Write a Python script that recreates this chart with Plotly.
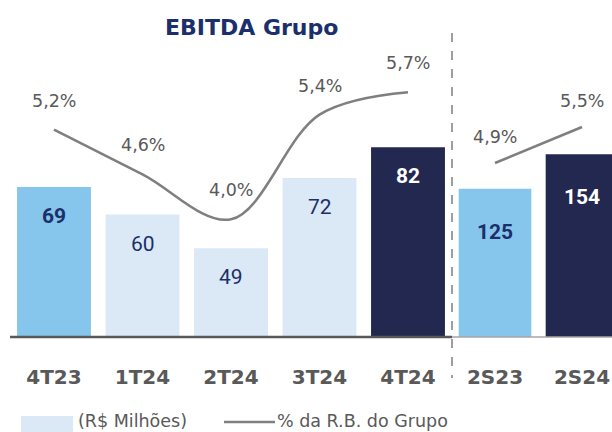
import plotly.graph_objects as go

# ---- data ----
quarters = ["4T23", "1T24", "2T24", "3T24", "4T24"]
quarter_ebitda = [69, 60, 49, 72, 82]
quarter_pct = [5.2, 4.6, 4.0, 5.4, 5.7]

semesters = ["2S23", "2S24"]
semester_ebitda = [125, 154]
semester_pct = [4.9, 5.5]

title_text = "EBITDA Grupo"
legend_bar = "(R$ Milhões)"
legend_line = "% da R.B. do Grupo"

# ---- styles ----
LIGHT = "#87C6EC"
PALE = "#DBE8F5"
DARK = "#22284F"
NAVY = "#1B2F6B"
GRAY = "#595959"
LINE = "#7F7F7F"
FONT = "DejaVu Sans"
NUMFONT = "Roboto"

q_colors = [LIGHT, PALE, PALE, PALE, DARK]
q_text_colors = [NAVY, NAVY, NAVY, NAVY, "white"]
q_bold = [True, False, False, False, True]
s_colors = [LIGHT, DARK]
s_text_colors = [NAVY, "white"]
s_bold = [True, True]

W, H = 612, 432
PLOT_TOP, PLOT_BOTTOM = 30, 337
ML, MR = 0, 0
MT = PLOT_TOP
MB = H - PLOT_BOTTOM
PH = H - MT - MB


def px_x(p):
    return p / W


def px_y(p):
    return (H - MB - p) / PH


fig = go.Figure()

fig.add_trace(go.Bar(x=quarters, y=quarter_ebitda, marker_color=q_colors,
                     marker_line_width=0, xaxis="x", yaxis="y",
                     hoverinfo="skip", showlegend=False))
fig.add_trace(go.Scatter(x=quarters, y=quarter_pct, mode="lines",
                         line=dict(color=LINE, width=2.5, shape="spline", smoothing=1.0),
                         xaxis="x", yaxis="y2", hoverinfo="skip", showlegend=False))
fig.add_trace(go.Bar(x=semesters, y=semester_ebitda, marker_color=s_colors,
                     marker_line_width=0, xaxis="x2", yaxis="y3",
                     hoverinfo="skip", showlegend=False))
fig.add_trace(go.Scatter(x=semesters, y=semester_pct, mode="lines",
                         line=dict(color=LINE, width=2.5),
                         xaxis="x2", yaxis="y4", hoverinfo="skip", showlegend=False))

annotations = []


def fmt_pct(v):
    return f"{v:.1f}".replace(".", ",") + "%"


for cat, v, c, b in zip(quarters, quarter_ebitda, q_text_colors, q_bold):
    annotations.append(dict(x=cat, y=v, xref="x", yref="y", text=f"<b>{v}</b>" if b else str(v),
                            showarrow=False, yshift=-29, yanchor="middle",
                            font=dict(family=NUMFONT, size=21, color=c)))
for cat, v in zip(quarters, quarter_pct):
    annotations.append(dict(x=cat, y=v, xref="x", yref="y2", text=fmt_pct(v),
                            showarrow=False, yshift=29, yanchor="middle",
                            font=dict(family=FONT, size=17.5, color=GRAY)))
for cat, v, c, b in zip(semesters, semester_ebitda, s_text_colors, s_bold):
    annotations.append(dict(x=cat, y=v, xref="x2", yref="y3", text=f"<b>{v}</b>" if b else str(v),
                            showarrow=False, yshift=-43, yanchor="middle",
                            font=dict(family=NUMFONT, size=21, color=c)))
for cat, v in zip(semesters, semester_pct):
    annotations.append(dict(x=cat, y=v, xref="x2", yref="y4", text=fmt_pct(v),
                            showarrow=False, yshift=26, yanchor="middle",
                            font=dict(family=FONT, size=17.5, color=GRAY)))

# title
annotations.append(dict(x=px_x(251), y=px_y(27), xref="paper", yref="paper",
                        text=f"<b>{title_text}</b>", showarrow=False,
                        xanchor="center", yanchor="middle",
                        font=dict(family=FONT, size=22, color=NAVY)))
# legend texts
annotations.append(dict(x=px_x(76), y=px_y(421), xref="paper", yref="paper",
                        text=legend_bar, showarrow=False, xanchor="left", yanchor="middle",
                        font=dict(family=FONT, size=17.5, color=GRAY)))
annotations.append(dict(x=px_x(275), y=px_y(421), xref="paper", yref="paper",
                        text=legend_line, showarrow=False, xanchor="left", yanchor="middle",
                        font=dict(family=FONT, size=17.5, color=GRAY)))

shapes = [
    # baseline left (quarters)
    dict(type="line", xref="paper", yref="paper", x0=px_x(10), x1=px_x(452),
         y0=px_y(337), y1=px_y(337), line=dict(color=GRAY, width=2.5)),
    # baseline right (semesters)
    dict(type="line", xref="paper", yref="paper", x0=px_x(452), x1=1,
         y0=px_y(337), y1=px_y(337), line=dict(color="#A6A6A6", width=1.5)),
    # dashed separator
    dict(type="line", xref="paper", yref="paper", x0=px_x(452), x1=px_x(452),
         y0=px_y(33), y1=px_y(378), line=dict(color=LINE, width=1.5, dash="dash")),
    # legend swatches
    dict(type="rect", xref="paper", yref="paper", x0=px_x(21), x1=px_x(73),
         y0=px_y(433), y1=px_y(416), fillcolor=PALE, line=dict(width=0)),
    dict(type="line", xref="paper", yref="paper", x0=px_x(224), x1=px_x(275),
         y0=px_y(422), y1=px_y(422), line=dict(color=LINE, width=2.5)),
]

xq_dom = [px_x(9.75), px_x(452.25)]
xs_dom = [px_x(451.5), 1]
s_right = (612 - 451.5) / 87 - 0.5

tickfont = dict(family=FONT, size=20, color=GRAY)

# percentage axes (px per percentage point)
q_pct_mid, q_pct_y, q_pct_scale = 4.98, 146.0, 74.8
s_pct_mid, s_pct_y, s_pct_scale = 4.9, 163.0, 60.0

fig.update_layout(
    width=W, height=H,
    margin=dict(l=ML, r=MR, t=MT, b=MB, pad=0),
    paper_bgcolor="white", plot_bgcolor="white",
    bargap=0.165,
    showlegend=False,
    hovermode=False,
    xaxis=dict(domain=xq_dom, range=[-0.5, 4.5], type="category", showgrid=False,
               zeroline=False, showline=False, ticks="outside", ticklen=22,
               tickcolor="rgba(0,0,0,0)", tickfont=tickfont,
               tickprefix="<b>", ticksuffix="</b>", anchor="y", fixedrange=True),
    xaxis2=dict(domain=xs_dom, range=[-0.5, s_right], type="category", showgrid=False,
                zeroline=False, showline=False, ticks="outside", ticklen=22,
                tickcolor="rgba(0,0,0,0)", tickfont=tickfont,
                tickprefix="<b>", ticksuffix="</b>", anchor="y3", fixedrange=True),
    yaxis=dict(range=[20, 20 + PH / 3.06], visible=False, fixedrange=True),
    yaxis2=dict(range=[q_pct_mid - (PLOT_BOTTOM - q_pct_y) / q_pct_scale,
                       q_pct_mid + (q_pct_y - PLOT_TOP) / q_pct_scale],
                overlaying="y", visible=False, fixedrange=True),
    yaxis3=dict(range=[0, PH / 1.187], visible=False, anchor="x2", fixedrange=True),
    yaxis4=dict(range=[s_pct_mid - (PLOT_BOTTOM - s_pct_y) / s_pct_scale,
                       s_pct_mid + (s_pct_y - PLOT_TOP) / s_pct_scale],
                overlaying="y3", visible=False, anchor="x2", fixedrange=True),
    annotations=annotations,
    shapes=shapes,
)

fig.write_html(
    "out.html",
    config={"displayModeBar": False},
    post_script="document.body.style.margin='0';document.body.style.overflow='hidden';",
)
